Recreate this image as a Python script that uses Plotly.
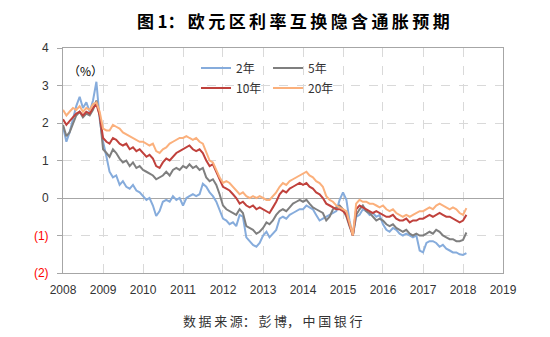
import plotly.graph_objects as go
import pandas as pd

# Monthly observations, Jan 2008 .. Feb 2018
dates = pd.date_range("2008-01-01", "2018-02-01", freq="MS")

y2 = [
    1.9, 1.5, 1.75, 2.15, 2.45, 2.7, 2.4, 2.55, 2.3, 2.6, 3.1, 2.1,
    1.5, 1.1, 0.7, 0.55, 0.6, 0.35, 0.45, 0.3, 0.25, 0.35, 0.2, 0.15,
    0.05, -0.05, 0.0, -0.2, -0.48, -0.35, -0.1, -0.05, -0.1, 0.05, -0.05, 0.0,
    -0.2, 0.0, 0.05, 0.1, 0.05, 0.1, 0.38, 0.3, 0.15, 0.05, -0.1, -0.3,
    -0.55, -0.6, -0.7, -0.65, -0.75, -0.45, -0.5, -1.05, -1.15, -1.25, -1.3, -1.2,
    -1.0, -0.9, -1.05, -0.95, -0.85, -0.55, -0.5, -0.55, -0.45, -0.4, -0.35, -0.3,
    -0.3, -0.2, -0.25, -0.3, -0.45, -0.6, -0.55, -0.5, -0.45, -0.4, -0.35, -0.05,
    0.15, -0.05, -0.6, -1.0, -0.5, -0.45, -0.3, -0.35, -0.45, -0.4, -0.5, -0.45,
    -0.7, -0.85, -0.9, -0.8, -0.85, -0.95, -1.0, -0.95, -1.0, -1.05, -1.0, -1.4,
    -1.45, -1.2, -1.15, -1.15, -1.2, -1.3, -1.25, -1.35, -1.4, -1.45, -1.45, -1.5,
    -1.52, -1.47,
]

y5 = [
    1.95, 1.65, 1.75, 2.0, 2.2, 2.3, 2.15, 2.25, 2.2, 2.35, 2.6, 2.2,
    1.3, 1.2, 1.1, 1.3, 1.2, 1.05, 0.95, 1.0, 0.85, 0.95, 0.8, 0.85,
    0.75, 0.7, 0.65, 0.6, 0.5, 0.55, 0.6, 0.7, 0.6, 0.75, 0.8, 0.75,
    0.85, 0.8, 0.9, 0.8, 0.85, 0.75, 0.8, 0.55, 0.45, 0.5, 0.35, 0.1,
    -0.2, -0.3, -0.35, -0.4, -0.45, -0.3, -0.4, -0.75, -0.8, -0.85, -0.95, -0.9,
    -0.8, -0.65, -0.7, -0.6, -0.45, -0.35, -0.3, -0.35, -0.25, -0.15, -0.1, -0.05,
    -0.1, -0.05, -0.15, -0.25, -0.3, -0.35, -0.4, -0.6, -0.5, -0.3, -0.25, -0.2,
    -0.3, -0.5, -0.75, -1.0, -0.45, -0.3, -0.2, -0.35, -0.4, -0.5, -0.6, -0.55,
    -0.6, -0.7, -0.75, -0.7, -0.8, -0.85, -0.9, -0.85, -0.95, -1.0, -0.95, -1.0,
    -1.0, -0.95, -0.9, -0.95, -0.85, -0.9, -1.0, -1.05, -1.1, -1.1, -1.15, -1.15,
    -1.12, -0.92,
]

y10 = [
    2.1, 1.95, 2.05, 2.15, 2.25, 2.3, 2.2, 2.3, 2.25, 2.4, 2.5, 2.2,
    1.6, 1.5, 1.45, 1.6, 1.55, 1.45, 1.4, 1.45, 1.3, 1.35, 1.25, 1.3,
    1.2, 1.1, 1.15, 1.05, 0.85, 0.8, 0.95, 1.05, 1.0, 1.1, 1.2, 1.25,
    1.3, 1.35, 1.4, 1.3, 1.25, 1.3, 1.2, 1.0, 0.85, 0.9, 0.7, 0.5,
    0.3, 0.25, 0.2, 0.1, 0.0, -0.15, -0.1, -0.2, -0.25, -0.2, -0.3, -0.25,
    -0.3, -0.35, -0.4, -0.25, -0.1, 0.1, 0.2, 0.15, 0.25, 0.3, 0.35, 0.4,
    0.35, 0.4, 0.3, 0.25, 0.15, 0.1, 0.0, -0.15, -0.2, -0.25, -0.3, -0.3,
    -0.35, -0.45, -0.7, -1.0, -0.3, -0.2, -0.25, -0.3, -0.35, -0.4, -0.35, -0.4,
    -0.45, -0.5, -0.5, -0.45, -0.55, -0.6, -0.6, -0.55, -0.65, -0.6, -0.6, -0.55,
    -0.55, -0.5, -0.45, -0.5, -0.45, -0.4, -0.45, -0.5, -0.5, -0.55, -0.6, -0.65,
    -0.6, -0.45,
]

y20 = [
    2.35, 2.2, 2.3, 2.4, 2.35, 2.45, 2.3, 2.4, 2.35, 2.5, 2.55, 2.3,
    1.85, 1.8, 1.8, 1.95, 1.9, 1.85, 1.75, 1.7, 1.65, 1.6, 1.55, 1.5,
    1.5, 1.45, 1.4, 1.45, 1.25, 1.2, 1.3, 1.35, 1.45, 1.5, 1.55, 1.6,
    1.6, 1.65, 1.6, 1.55, 1.6, 1.5, 1.45, 1.2, 1.0, 0.95, 0.75, 0.55,
    0.4, 0.45, 0.4, 0.3, 0.2, 0.1, 0.15, 0.05, 0.0, 0.05, 0.0, 0.05,
    0.0, -0.05, -0.05, 0.05, 0.15, 0.3, 0.4, 0.35, 0.45, 0.5, 0.55, 0.6,
    0.65, 0.7, 0.6, 0.55, 0.45, 0.4, 0.3, 0.05, -0.05, -0.1, -0.2, -0.25,
    -0.3, -0.35, -0.65, -1.0, -0.15, -0.05, -0.1, -0.1, -0.15, -0.15, -0.2, -0.25,
    -0.2, -0.3, -0.35, -0.3, -0.4, -0.45, -0.5, -0.45, -0.5, -0.45, -0.4, -0.35,
    -0.35, -0.3, -0.25, -0.3, -0.2, -0.15, -0.2, -0.25, -0.3, -0.25, -0.3, -0.4,
    -0.45, -0.27,
]

series_names = ["2年", "5年", "10年", "20年"]
series_colors = ["#86ACDC", "#7F7F7F", "#C0413C", "#FBB07C"]
series_legend = ["legend", "legend", "legend2", "legend2"]

ytick_vals = [-2, -1, 0, 1, 2, 3, 4]
ytick_text = ["<span style='color:#FF0000'>(2)</span>",
              "<span style='color:#FF0000'>(1)</span>",
              "0", "1", "2", "3", "4"]
xtick_vals = [f"{y}-01-01" for y in range(2008, 2020)]
xtick_text = [str(y) for y in range(2008, 2020)]

title_text = "<b>图\u20091：\u2009欧\u2009元\u2009区\u2009利\u2009率\u2009互\u2009换\u2009隐\u2009含\u2009通\u2009胀\u2009预\u2009期</b>"
source_text = "数\u2009据\u2009来\u2009源：\u2009彭\u2009博，\u2009中\u2009国\u2009银\u2009行"

fig = go.Figure()
for vals, name, col, lg in zip([y2, y5, y10, y20], series_names, series_colors, series_legend):
    fig.add_trace(go.Scatter(x=dates, y=vals, mode="lines", name=name,
                             line=dict(color=col, width=2), legend=lg))

legend_common = dict(orientation="h", xanchor="left", yanchor="middle",
                     entrywidth=27, entrywidthmode="pixels", itemwidth=30,
                     bgcolor="rgba(0,0,0,0)", tracegroupgap=0,
                     font=dict(family="Noto Sans CJK SC, sans-serif", size=12, color="#333333"))

fig.update_layout(
    width=550, height=337,
    margin=dict(l=63, r=47, t=48, b=64),
    paper_bgcolor="white", plot_bgcolor="white",
    font=dict(family="Liberation Sans, Arial, sans-serif", size=12, color="#333333"),
    legend=dict(x=(196 - 63) / 440, y=(273 - 68) / 225, **legend_common),
    legend2=dict(x=(196 - 63) / 440, y=(273 - 88) / 225, **legend_common),
    showlegend=True,
)

fig.update_xaxes(type="date", range=["2008-01-01", "2019-01-01"],
                 tickvals=xtick_vals, ticktext=xtick_text,
                 showgrid=True, gridcolor="#D9D9D9", griddash="dash", gridwidth=1,
                 showline=True, linecolor="#A6A6A6", linewidth=1, mirror=True,
                 ticks="", ticklabelstandoff=6,
                 tickfont=dict(size=12, color="#333333"))
fig.update_yaxes(range=[-2, 4], tickvals=ytick_vals, ticktext=ytick_text,
                 showgrid=True, gridcolor="#D9D9D9", griddash="dash", gridwidth=1,
                 showline=True, linecolor="#A6A6A6", linewidth=1, mirror=True,
                 zeroline=True, zerolinecolor="#A6A6A6", zerolinewidth=1,
                 ticks="outside", ticklen=5, tickcolor="#A6A6A6",
                 ticklabelstandoff=6,
                 tickfont=dict(size=12, color="#333333"))

fig.add_annotation(text=title_text, xref="paper", yref="paper",
                   x=(293 - 63) / 440, y=(273 - 20) / 225, xanchor="center", yanchor="middle",
                   showarrow=False,
                   font=dict(family="Noto Sans CJK SC, sans-serif", size=17, color="#000000"))
fig.add_annotation(text=source_text, xref="paper", yref="paper",
                   x=(272 - 63) / 440, y=(273 - 320) / 225, xanchor="center", yanchor="middle",
                   showarrow=False,
                   font=dict(family="Noto Sans CJK SC, sans-serif", size=13, color="#333333"))
fig.add_annotation(text="（%）", xref="paper", yref="paper",
                   x=(85 - 63) / 440, y=(273 - 70) / 225, xanchor="center", yanchor="middle",
                   showarrow=False,
                   font=dict(family="Noto Sans CJK SC, sans-serif", size=12, color="#000000"))

fig.write_html("out.html")
